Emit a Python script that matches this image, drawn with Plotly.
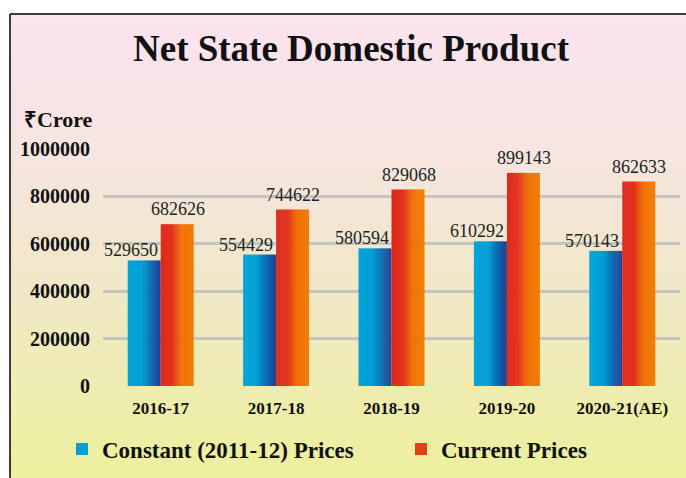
import base64
import plotly.graph_objects as go

categories = ["2016-17", "2017-18", "2018-19", "2019-20", "2020-21(AE)"]
constant_prices = [529650, 554429, 580594, 610292, 570143]
current_prices = [682626, 744622, 829068, 899143, 862633]
series_names = ["Constant (2011-12) Prices", "Current Prices"]
y_ticks = [0, 200000, 400000, 600000, 800000, 1000000]
y_tick_text = ["0", "200000", "400000", "600000", "800000", "1000000"]

W, H = 686, 478
L, R, T, B = 103, 6, 149, 92
PW, PH = W - L - R, H - T - B


def pxx(px):
    return (px - L) / PW


def pxy(py):
    return (H - B - py) / PH


def hex2rgb(h):
    h = h.lstrip("#")
    return [int(h[i:i + 2], 16) for i in (0, 2, 4)]


def grad(stops, t):
    for (t0, c0), (t1, c1) in zip(stops, stops[1:]):
        if t0 <= t <= t1:
            f = 0 if t1 == t0 else (t - t0) / (t1 - t0)
            a, b = hex2rgb(c0), hex2rgb(c1)
            return "rgb(%d,%d,%d)" % tuple(round(a[k] + (b[k] - a[k]) * f) for k in range(3))
    return stops[-1][1]


blue_stops = [(0, "#00A4DA"), (0.42, "#009FD5"), (0.7, "#0A6DB3"), (1, "#2A3A8F")]
red_stops = [(0, "#DC2A1F"), (0.35, "#E3321B"), (0.62, "#EF700A"), (1, "#F27D00")]

serif = "Liberation Serif, Times New Roman, serif"
fig = go.Figure()

N = 16
bar_w = 0.286
legend_ids = ["legend", "legend2"]
for series, vals, stops, start in [(0, constant_prices, blue_stops, -bar_w),
                                   (1, current_prices, red_stops, 0.0)]:
    for i in range(N):
        t = (i + 0.5) / N
        fig.add_trace(go.Bar(
            x=categories, y=vals,
            width=bar_w / N + (0.004 if i < N - 1 else 0),
            offset=start + i * bar_w / N,
            marker=dict(color=grad(stops, t), line=dict(width=0)),
            name=series_names[series],
            showlegend=(i == N // 2 - 2),
            legend=legend_ids[series],
            hoverinfo="skip" if i != N // 2 - 2 else None,
        ))

annotations = []
for c, v in zip(categories, constant_prices):
    annotations.append(dict(x=c, y=v, xref="x", yref="y", text=str(v), showarrow=False,
                            xshift=-30, yshift=-2, yanchor="bottom",
                            font=dict(family=serif, size=18, color="#231F20")))
for c, v in zip(categories, current_prices):
    annotations.append(dict(x=c, y=v, xref="x", yref="y", text=str(v), showarrow=False,
                            xshift=17, yshift=3, yanchor="bottom",
                            font=dict(family=serif, size=18, color="#231F20")))
annotations.append(dict(x=pxx(22), y=pxy(119), xref="paper", yref="paper", text="₹Crore",
                        showarrow=False, xanchor="left", yanchor="middle",
                        font=dict(family=serif, size=22, color="#111", weight="bold")))

svg = ('<svg xmlns="http://www.w3.org/2000/svg" width="100" height="100" preserveAspectRatio="none">'
       '<defs><linearGradient id="g" x1="0" y1="0" x2="0" y2="1">'
       '<stop offset="0" stop-color="#FCE3EF"/>'
       '<stop offset="0.3" stop-color="#F6E5E0"/>'
       '<stop offset="0.6" stop-color="#F0E8C6"/>'
       '<stop offset="1" stop-color="#EDF09C"/>'
       '</linearGradient></defs><rect width="100" height="100" fill="url(#g)"/></svg>')
src = "data:image/svg+xml;base64," + base64.b64encode(svg.encode()).decode()

legend_font = dict(family=serif, size=23, color="#111", weight="bold")
fig.update_layout(
    width=W, height=H,
    margin=dict(l=L, r=R, t=T, b=B, autoexpand=False),
    paper_bgcolor="white",
    plot_bgcolor="rgba(0,0,0,0)",
    barmode="overlay",
    title=dict(text="Net State Domestic Product", x=351 / W, xref="container", xanchor="center",
               y=1 - 48 / H, yref="container", yanchor="middle",
               font=dict(family=serif, size=37, color="#111", weight="bold")),
    xaxis=dict(type="category", range=[-0.5, 4.5], showgrid=False, zeroline=False, showline=False,
               ticks="", ticklabelstandoff=10,
               tickfont=dict(family=serif, size=17, color="#111", weight="bold")),
    yaxis=dict(range=[0, 1000000], tickvals=y_ticks, ticktext=y_tick_text, showgrid=True,
               gridcolor="#C4C4C4", gridwidth=2.5, zeroline=False, showline=False, ticks="",
               ticklabelstandoff=12,
               tickfont=dict(family=serif, size=20, color="#111", weight="bold")),
    legend=dict(orientation="h", x=62 / W, xref="container", xanchor="left",
                y=1 - 449 / H, yref="container", yanchor="middle",
                bgcolor="rgba(0,0,0,0)", font=legend_font),
    legend2=dict(orientation="h", x=401 / W, xref="container", xanchor="left",
                 y=1 - 449 / H, yref="container", yanchor="middle",
                 bgcolor="rgba(0,0,0,0)", font=legend_font),
    annotations=annotations,
    images=[dict(source=src, xref="paper", yref="paper", x=pxx(10), y=pxy(14),
                 sizex=(W - 10) / PW, sizey=(H - 14) / PH, xanchor="left", yanchor="top",
                 sizing="stretch", layer="below")],
    shapes=[
        dict(type="line", xref="paper", yref="paper", x0=pxx(10), x1=pxx(W + 2), y0=pxy(14), y1=pxy(14),
             line=dict(color="#3C3C3C", width=2)),
        dict(type="line", xref="paper", yref="paper", x0=pxx(10), x1=pxx(10), y0=pxy(14), y1=pxy(H + 2),
             line=dict(color="#3C3C3C", width=2)),
    ],
)

fig.write_html("out.html", config={"displayModeBar": False},
               post_script="document.body.style.margin='0';document.body.style.overflow='hidden';")
